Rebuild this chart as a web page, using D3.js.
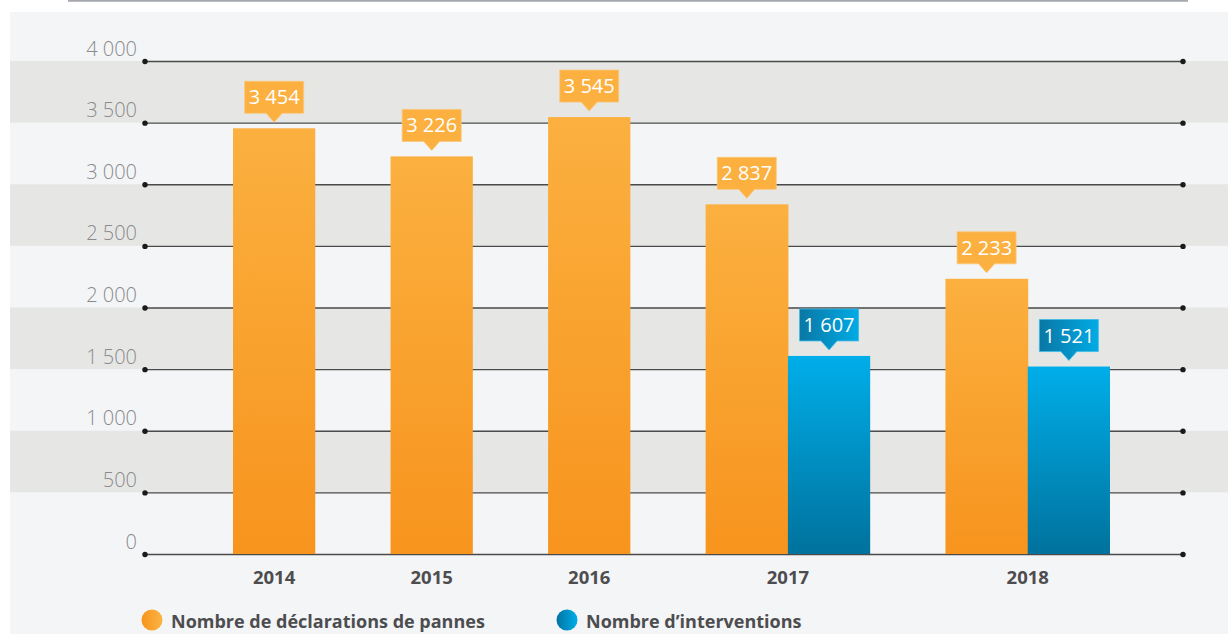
<!DOCTYPE html>
<html>
<head>
<meta charset="utf-8">
<script src="https://cdn.jsdelivr.net/npm/d3@7"></script>
<style>
  html, body { margin: 0; padding: 0; background: #fff; }
  svg { display: block; }
</style>
</head>
<body>
<svg id="chart" width="1228" height="634"></svg>
<script>
// Données
const years = ['2014', '2015', '2016', '2017', '2018'];
const pannes = [3454, 3226, 3545, 2837, 2233];
const interventions = [null, null, null, 1607, 1521];
const yTicks = [0, 500, 1000, 1500, 2000, 2500, 3000, 3500, 4000];
const seriesNames = ['Nombre de déclarations de pannes', 'Nombre d\u2019interventions'];

const W = 1228, H = 634;
const svg = d3.select('#chart');
const fr = d3.formatLocale({decimal: ',', thousands: '\u00a0', grouping: [3], currency: ['', '']});
const fmt = fr.format(',d');

// Dégradés
const defs = svg.append('defs');
function grad(id, stops, x2, y2) {
    const g = defs.append('linearGradient').attr('id', id)
        .attr('x1', 0).attr('y1', 0).attr('x2', x2).attr('y2', y2);
    stops.forEach((c, i) => g.append('stop').attr('offset', i / (stops.length - 1)).attr('stop-color', c));
}
grad('gOrange', ['#fbb040', '#f7941d'], 0, 1);
grad('gBlue', ['#00aee9', '#00729d'], 0, 1);
grad('gOrangeH', ['#f7941d', '#fbb444'], 1, 0);
grad('gBlueH', ['#0074a2', '#00aee9'], 1, 0);
grad('gBlueBox', ['#0a77a4', '#00abe6'], 1, 0);

// Fond
svg.append('rect').attr('x', 10).attr('y', 12).attr('width', W - 10).attr('height', H - 12).attr('fill', '#f4f5f7');
svg.append('line').attr('x1', 68).attr('x2', 1188).attr('y1', 0.8).attr('y2', 0.8)
    .attr('stroke', '#a5a9ad').attr('stroke-width', 2);

// Echelles
const y = d3.scaleLinear().domain([0, 4000]).range([554, 61]);
const gap = 0.915;
const groups = years.map((yr, i) => ({
    year: yr,
    values: [pannes[i], interventions[i]].map((v, s) => ({v, s})).filter(d => d.v != null)
}));
let pos = 0;
groups.forEach((g, i) => { g.start = pos; pos += g.values.length + (i < groups.length - 1 ? gap : 0); });
const x = d3.scaleLinear().domain([0, pos]).range([233, 1110]);
const unit = x(1) - x(0);

// Bandes grises
svg.append('g').selectAll('rect')
    .data(yTicks.filter((t, i) => i % 2 === 1))
    .join('rect')
    .attr('x', 10).attr('width', W - 10)
    .attr('y', d => y(d + 500)).attr('height', d => y(d) - y(d + 500))
    .attr('fill', '#e6e7e5');

// Axe
const x0 = 145, x1 = 1183;
const axis = svg.append('g').attr('transform', `translate(${x0},0)`)
    .call(d3.axisLeft(y).tickValues(yTicks).tickFormat(fmt).tickSize(-(x1 - x0)).tickPadding(8));
axis.select('.domain').remove();
axis.selectAll('.tick line').attr('stroke', '#4a4a4a').attr('stroke-width', 1.4);
axis.selectAll('.tick text')
    .attr('y', -6).attr('dy', 0)
    .attr('fill', '#8a8a8c')
    .style('font-family', '"Open Sans", sans-serif')
    .style('font-weight', 300)
    .style('font-size', '20px');
axis.selectAll('.tick').each(function () {
    const t = d3.select(this);
    [0, x1 - x0].forEach(cx => t.append('circle').attr('cx', cx).attr('r', 2.7).attr('fill', '#1a1a1a'));
});

// Barres
const bars = svg.append('g');
groups.forEach(g => {
    g.values.forEach((d, j) => {
        const bx = x(g.start + j);
        bars.append('rect')
            .attr('x', bx).attr('width', unit + (j < g.values.length - 1 ? 0.5 : 0))
            .attr('y', y(d.v)).attr('height', y(0) - y(d.v))
            .attr('fill', d.s === 0 ? 'url(#gOrange)' : 'url(#gBlue)');
    });
});

// Etiquettes (bulles)
const labels = svg.append('g');
groups.forEach(g => {
    g.values.forEach((d, j) => {
        const cx = x(g.start + j + 0.5);
        const tip = y(d.v) - 6;
        const bb = tip - 9, bw = 59, bh = 32;
        const fill = d.s === 0 ? '#fbb040' : 'url(#gBlueBox)';
        const stroke = d.s === 0 ? '#fcc677' : '#3cbbe8';
        labels.append('path')
            .attr('d', `M${cx - bw / 2},${bb - bh}H${cx + bw / 2}V${bb}H${cx + 8}L${cx},${tip}L${cx - 8},${bb}H${cx - bw / 2}Z`)
            .attr('fill', fill).attr('stroke', stroke).attr('stroke-width', 0.8);
        labels.append('text')
            .attr('x', cx).attr('y', bb - bh / 2 + 7)
            .attr('text-anchor', 'middle')
            .attr('fill', '#fff')
            .style('font-family', '"Open Sans", sans-serif')
            .style('font-size', '20px')
            .text(fmt(d.v));
    });
});

// Années
svg.append('g').selectAll('text')
    .data(groups)
    .join('text')
    .attr('x', g => x(g.start + g.values.length / 2))
    .attr('y', 584)
    .attr('text-anchor', 'middle')
    .attr('fill', '#4d4d4f')
    .style('font-family', '"Open Sans", sans-serif')
    .style('font-weight', 700)
    .style('font-size', '18.5px')
    .text(g => g.year);

// Légende
const legend = svg.append('g');
const legendX = [152, 567];
seriesNames.forEach((name, i) => {
    legend.append('circle').attr('cx', legendX[i]).attr('cy', 620).attr('r', 10.5)
        .attr('fill', i === 0 ? 'url(#gOrangeH)' : 'url(#gBlueH)');
    legend.append('text')
        .attr('x', legendX[i] + 19).attr('y', 627.5)
        .attr('fill', '#4d4d4f')
        .style('font-family', '"Open Sans", sans-serif')
        .style('font-weight', 700)
        .style('font-size', '18px')
        .text(name);
});
</script>
</body>
</html>
